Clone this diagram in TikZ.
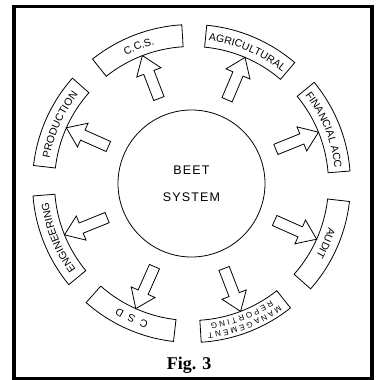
\documentclass[tikz,border=0pt]{standalone}
\usepackage{fontspec}
\newfontfamily\figfont{Liberation Serif}
\newfontfamily\deptsans{Liberation Sans}
\usetikzlibrary{decorations.text}
\newcommand{\deptfont}{\deptsans\fontsize{10.5}{12}\selectfont}
\newcommand{\mgmtfont}{\deptsans\fontsize{8}{9}\selectfont}

\tikzset{
  outline/.style={line width=0.8pt},
  deptlabel/.style={decorate, decoration={text along path, text align=center, text={#1}}}
}

\begin{document}
\begin{tikzpicture}[x=1pt,y=1pt]
	\useasboundingbox (0,0) rectangle (377,380);
	% frame
	\draw[line width=3.5pt] (14,1.5) rectangle (372,373.5);
	% centre
	\node[circle, draw, outline, minimum size=147pt, inner sep=0pt, align=center,
	      font={\deptsans\fontsize{12.5}{27}\selectfont\addfontfeature{LetterSpace=9}}]
	      (beet) at (191.5,196.5) {BEET\\SYSTEM};
	\node[font={\figfont\bfseries\fontsize{18}{18}\selectfont}, anchor=base] (fig) at (189,10) {Fig. 3};
	\begin{scope}[shift={(beet.center)}]
		% boxes and arrows
		\foreach \a in {111,67,22,-24,-69,-114,-158,156}{
			\draw[outline] (\a+17.5:137) arc[start angle=\a+17.5, end angle=\a-17.5, radius=137]
			      -- (\a-17.5:159) arc[start angle=\a-17.5, end angle=\a+17.5, radius=159] -- cycle;
			\draw[outline, rotate=\a] (91,-5.5) -- (119,-5.5) -- (119,-13) -- (137,0)
			      -- (119,13) -- (119,5.5) -- (91,5.5) -- cycle;
		}
		% labels
		\path[deptlabel={|\deptfont|C.C.S.}] (136:144) arc[start angle=136, end angle=86, radius=144];
		\path[deptlabel={|\deptfont|AGRICULTURAL}] (92:144) arc[start angle=92, end angle=42, radius=144];
		\path[deptlabel={|\deptfont|FINANCIAL ACC}] (47:144) arc[start angle=47, end angle=-3, radius=144];
		\path[deptlabel={|\deptfont|AUDIT}] (1:144) arc[start angle=1, end angle=-49, radius=144];
		\path[deptlabel={|\mgmtfont|M A N A G E M E N T}] (-44:150) arc[start angle=-44, end angle=-94, radius=150];
		\path[deptlabel={|\mgmtfont|R E P O R T I N G}] (-44:141) arc[start angle=-44, end angle=-94, radius=141];
		\path[deptlabel={|\deptfont|C~ S~ D}] (-89:144) arc[start angle=-89, end angle=-139, radius=144];
		\path[deptlabel={|\deptfont|ENGINEERING}] (-133:144) arc[start angle=-133, end angle=-183, radius=144];
		\path[deptlabel={|\deptfont|PRODUCTION}] (181:144) arc[start angle=181, end angle=131, radius=144];
	\end{scope}
\end{tikzpicture}
\end{document}
